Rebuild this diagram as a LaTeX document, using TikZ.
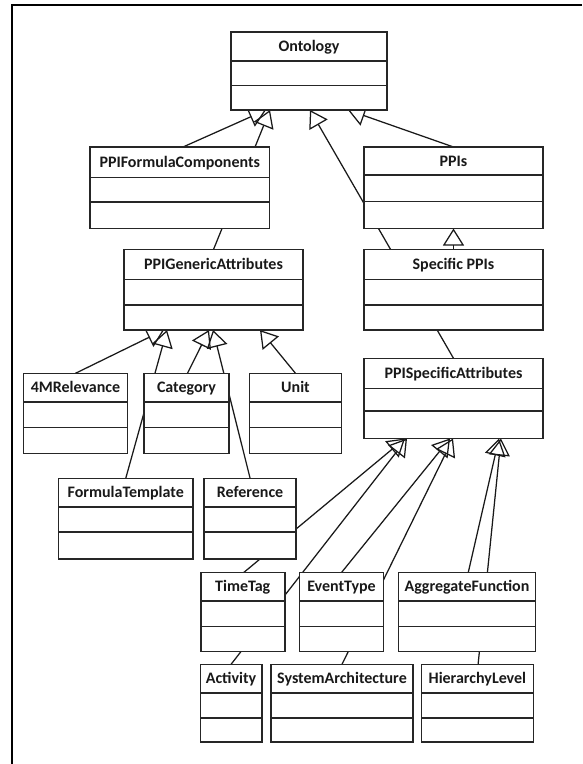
\documentclass[tikz,border=0pt]{standalone}
\usepackage{fontspec}
\setmainfont{Carlito}
\usetikzlibrary{arrows.meta,calc}
\pgfdeclarelayer{background}
\pgfsetlayers{background,main}
\tikzset{
  cls/.style={draw=black!85, line width=1.6pt, fill=white, inner sep=0pt, outer sep=0pt},
  divl/.style={draw=black!85, line width=1.6pt},
  ttl/.style={inner sep=0pt, text height=10.3pt, text depth=0pt, font=\bfseries\fontsize{16}{19}\selectfont, text=black!90},
  genl/.style={draw=black!90, line width=1.25pt, -{Triangle[open, length=17pt, width=21pt, line width=1.25pt]}},
  framel/.style={draw=black, line width=2pt}
}
\newcommand\umlbox[8]{%
  \node[cls, anchor=north west, minimum width={#3-#2}, minimum height={#7-#4}] (#1) at (#2,#4) {};
  \draw[divl] (#2,#5) -- (#3,#5);
  \draw[divl] (#2,#6) -- (#3,#6);
  \node[ttl] (#1-t) at ($(#1.north)+(0,{(#5-#4)/2})$) {#8};
}
\begin{document}
\begin{tikzpicture}[x=1pt,y=-1pt]
\useasboundingbox (0,0) rectangle (582,764);
% frame
\coordinate (fTL) at (12,5);
\coordinate (fTR) at (582,5);
\coordinate (fBL) at (12,764);
\draw[framel] (fTR) -- (fTL) -- (fBL);
% classes
\umlbox{ont}{231}{387}{32}{61}{85.5}{110}{Ontology}
\umlbox{pfc}{90}{269.5}{147}{177.5}{202}{228.5}{PPIFormulaComponents}
\umlbox{ppis}{364}{543}{147}{175}{201.5}{228.5}{PPIs}
\umlbox{gen}{124}{303}{249.5}{279.5}{305}{330}{PPIGenericAttributes}
\umlbox{sppis}{364}{543}{249.5}{279.5}{305}{330}{Specific PPIs}
\umlbox{rel}{23.5}{127.5}{373.3}{401.7}{427.3}{453.3}{4MRelevance}
\umlbox{cat}{144}{229}{373.3}{401.7}{427.3}{453.3}{Category}
\umlbox{unit}{249.5}{341.5}{373.3}{401.7}{427.3}{453.3}{Unit}
\umlbox{psa}{364}{543}{358.3}{388.3}{411}{438.5}{PPISpecificAttributes}
\umlbox{ft}{58.5}{193}{478.3}{507}{532}{559}{FormulaTemplate}
\umlbox{ref}{204}{296.2}{478.3}{507}{532}{559}{Reference}
\umlbox{tt}{200.8}{284.7}{572.5}{601}{626.5}{651.5}{TimeTag}
\umlbox{et}{299.6}{383.4}{572.5}{601}{626.5}{651.5}{EventType}
\umlbox{agg}{398.3}{535.6}{572.5}{601}{626.5}{651.5}{AggregateFunction}
\umlbox{act}{200.4}{261.7}{664.3}{693}{718}{741.7}{Activity}
\umlbox{sa}{271}{413}{664.3}{693}{718}{741.7}{SystemArchitecture}
\umlbox{hl}{421.3}{533.5}{664.3}{693}{718}{741.7}{HierarchyLevel}
% generalizations (drawn behind the boxes)
\begin{pgfonlayer}{background}
\fill[white] (0,0) rectangle (582,764);
\draw[genl] ([xshift=3.25pt]pfc.north) -- ([xshift=-43pt]ont.south);
\draw[genl] (gen.north) -- ([xshift=-39pt]ont.south);
\draw[genl] (psa.north) -- ([xshift=1pt]ont.south);
\draw[genl] (ppis.north) -- ([xshift=39pt]ont.south);
\draw[genl] (sppis.north) -- (ppis.south);
\draw[genl] (rel.north) -- ([xshift=-49.5pt]gen.south);
\draw[genl] (ft.north) -- ([xshift=-46.5pt]gen.south);
\draw[genl] ([xshift=1pt]cat.north) -- ([xshift=-4.5pt]gen.south);
\draw[genl] (ref.north) -- ([xshift=-0.5pt]gen.south);
\draw[genl] (unit.north) -- ([xshift=46.5pt]gen.south);
\draw[genl] ([xshift=1pt]tt.north) -- ([xshift=-48.5pt]psa.south);
\draw[genl] (act.north) -- ([xshift=-46.5pt]psa.south);
\draw[genl] (et.north) -- ([xshift=-3.5pt]psa.south);
\draw[genl] (sa.north) -- ([xshift=-0.5pt]psa.south);
\draw[genl] ([xshift=1.3pt]agg.north) -- ([xshift=45.5pt]psa.south);
\draw[genl] ([xshift=0.7pt]hl.north) -- ([xshift=47.5pt]psa.south);
\end{pgfonlayer}
\end{tikzpicture}
\end{document}
